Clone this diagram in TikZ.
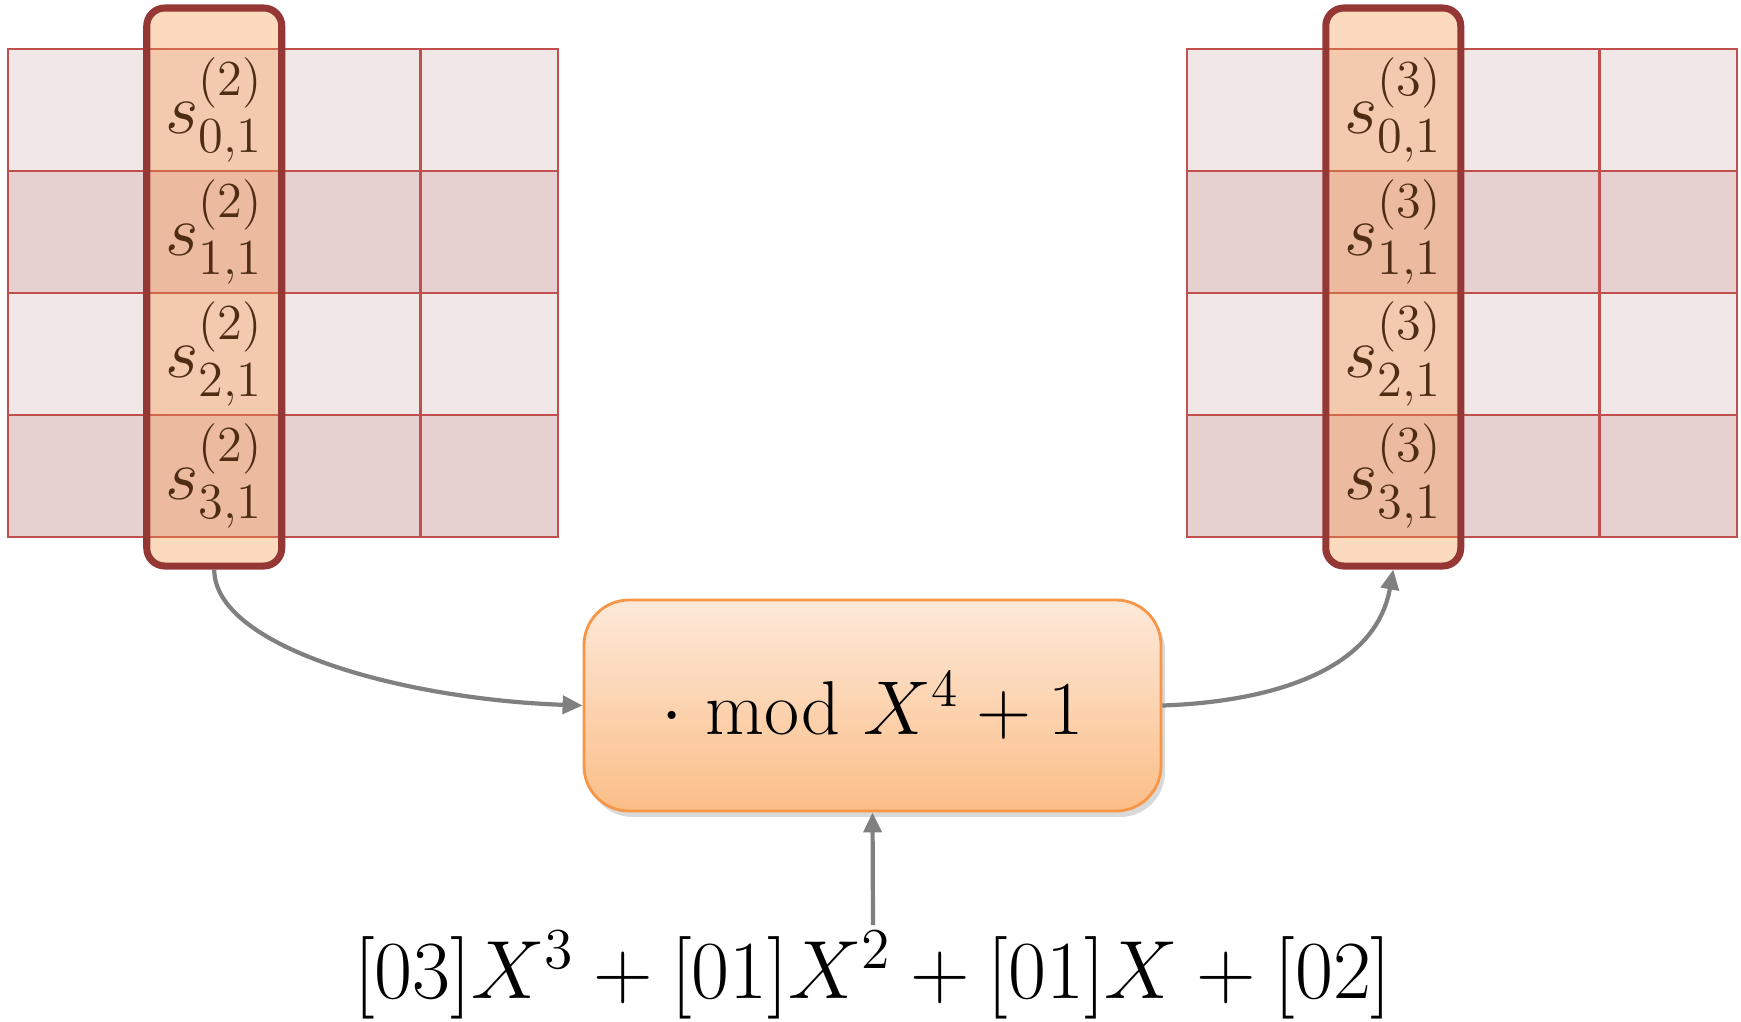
\RequirePackage{fix-cm}
\documentclass[tikz,border=0pt]{standalone}
\usepackage{amsmath}
\usepackage{tikz}
\usetikzlibrary{arrows.meta,shadows,positioning}
\definecolor{gridred}{HTML}{C0504D}
\definecolor{rowlight}{HTML}{F2E7E7}
\definecolor{rowdark}{HTML}{E7D0D0}
\definecolor{colframe}{HTML}{953735}
\definecolor{colpeach}{HTML}{F79646}
\definecolor{stateink}{HTML}{4F2D14}
\definecolor{boxtop}{HTML}{FDE9D9}
\definecolor{boxbot}{HTML}{FBBE88}
\definecolor{arrowgray}{HTML}{808080}

\begin{document}
\begin{tikzpicture}[
	cell/.style={draw=gridred,line width=0.8pt,minimum width=1.375cm,minimum height=1.22cm,inner sep=0pt,outer sep=0pt},
	column/.style={draw=colframe,line width=2pt,fill=colpeach,fill opacity=0.35,rounded corners=0.18cm,minimum width=1.35cm,minimum height=5.58cm,inner sep=0pt},
	entry/.style={text=stateink,font=\fontsize{20.5}{24}\selectfont},
	opbox/.style={draw=colpeach,line width=0.8pt,rounded corners=0.45cm,top color=boxtop,bottom color=boxbot,minimum width=5.77cm,minimum height=2.11cm,drop shadow={opacity=0.3,shadow xshift=0.04cm,shadow yshift=-0.06cm},font=\fontsize{21.7}{26}\selectfont},
	flow/.style={draw=arrowgray,line width=1.2pt,-{Triangle[length=2mm,width=1.8mm]}}
]
	\useasboundingbox (0,0) rectangle (17.41,-10.21);
	% both states: 4x4 cells, light and dark rows
	\foreach \r/\rowfill in {0/rowlight,1/rowdark,2/rowlight,3/rowdark}{
		\foreach \c in {0,...,3}{
			\node[cell,fill=\rowfill] (a\r\c) at ({0.7675+1.375*\c},{-1.10-1.22*\r}) {};
			\node[cell,fill=\rowfill] (b\r\c) at ({12.5575+1.375*\c},{-1.10-1.22*\r}) {};
		}
	}
	\node[column] (colA) at (2.1425,-2.87) {};
	\node[column] (colB) at (13.9325,-2.87) {};
	\foreach \r in {0,...,3}{
		\node[entry] (sa\r) at (a\r1) {$s^{(2)}_{\r,1}$};
		\node[entry] (sb\r) at (b\r1) {$s^{(3)}_{\r,1}$};
	}
	\node[opbox] (mix) at (8.725,-7.055) {$\cdot\ \mathrm{mod}\ X^{4}+1$};
	\node[font=\fontsize{23.5}{28}\selectfont,inner sep=0.05cm,anchor=base] (poly) at (8.73,-9.98) {$[03]X^{3}+[01]X^{2}+[01]X+[02]$};
	\draw[flow] (colA.south) to[out=-90,in=178,out looseness=0.5,in looseness=1.2] (mix.west);
	\draw[flow] (mix.east) to[out=2,in=-100] (colB.south);
	\draw[flow] (poly.north) -- (mix.south);
\end{tikzpicture}
\end{document}
